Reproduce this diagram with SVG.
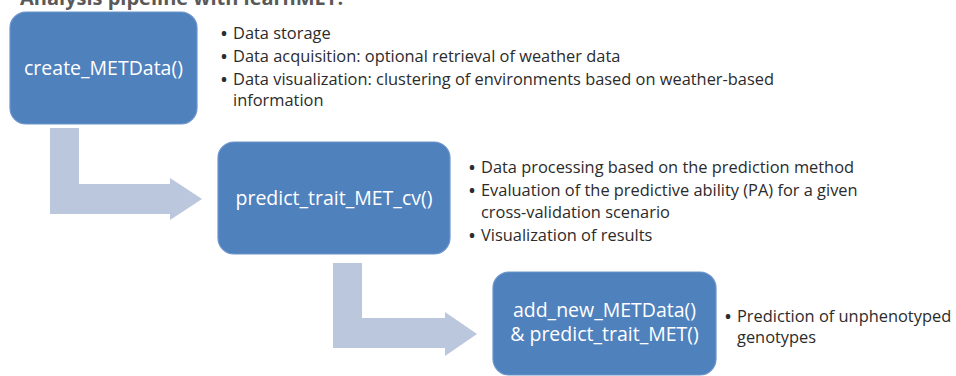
<svg xmlns="http://www.w3.org/2000/svg" width="956" height="376" viewBox="0 0 956 376">
  <style>
    .box { fill: #4F81BD; stroke: #6B95CB; stroke-width: 1.2; }
    .boxtext { font-family: "Open Sans", "Liberation Sans", sans-serif; font-size: 19.5px; fill: #FFFFFF; text-anchor: middle; }
    .bul { font-family: "Open Sans", "Liberation Sans", sans-serif; font-size: 16.4px; fill: #2B2B2B; }
    .dot { font-family: "Open Sans", "Liberation Sans", sans-serif; font-size: 16px; font-weight: bold; fill: #2B2B2B; }
    .arrow { fill: #BAC7DC; }
    .title { font-family: "Open Sans", "Liberation Sans", sans-serif; font-size: 20px; font-weight: bold; fill: #595959; }
  </style>
  <rect width="956" height="376" fill="#FFFFFF"/>
  <text class="title" x="20" y="5">Analysis pipeline with learnMET:</text>

  <g id="connectors">
    <path id="arrow1" class="arrow" d="M50,128 L79,128 L79,184 L170,184 L170,178 L202,199 L170,220 L170,214 L50,214 Z"/>
    <path id="arrow2" class="arrow" d="M333,263 L362,263 L362,318 L445,318 L445,312 L477,334 L445,356 L445,348 L333,348 Z"/>
  </g>

  <g id="node-create">
    <rect class="box" x="10" y="12" width="187" height="112" rx="16"/>
    <text class="boxtext" x="103.5" y="75">create_METData()</text>
  </g>
  <g id="node-create-notes">
    <text class="dot" x="221" y="39">•</text><text class="bul" x="233" y="39">Data storage</text>
    <text class="dot" x="221" y="62">•</text><text class="bul" x="233" y="62">Data acquisition: optional retrieval of weather data</text>
    <text class="dot" x="221" y="85">•</text><text class="bul" x="233" y="85">Data visualization: clustering of environments based on weather-based</text>
    <text class="bul" x="233" y="106">information</text>
  </g>

  <g id="node-predict-cv">
    <rect class="box" x="218" y="142" width="232" height="112" rx="16"/>
    <text class="boxtext" x="334" y="205">predict_trait_MET_cv()</text>
  </g>
  <g id="node-predict-cv-notes">
    <text class="dot" x="469" y="173">•</text><text class="bul" x="481" y="173">Data processing based on the prediction method</text>
    <text class="dot" x="469" y="196">•</text><text class="bul" x="481" y="196">Evaluation of the predictive ability (PA) for a given</text>
    <text class="bul" x="481" y="218">cross-validation scenario</text>
    <text class="dot" x="469" y="241">•</text><text class="bul" x="481" y="241">Visualization of results</text>
  </g>

  <g id="node-predict-new">
    <rect class="box" x="493" y="272" width="223" height="103" rx="16"/>
    <text class="boxtext" x="604.5" y="317">add_new_METData()</text>
    <text class="boxtext" x="604.5" y="341">&amp; predict_trait_MET()</text>
  </g>
  <g id="node-predict-new-notes">
    <text class="dot" x="725" y="322">•</text><text class="bul" x="737" y="322">Prediction of unphenotyped</text>
    <text class="bul" x="737" y="343">genotypes</text>
  </g>
</svg>
